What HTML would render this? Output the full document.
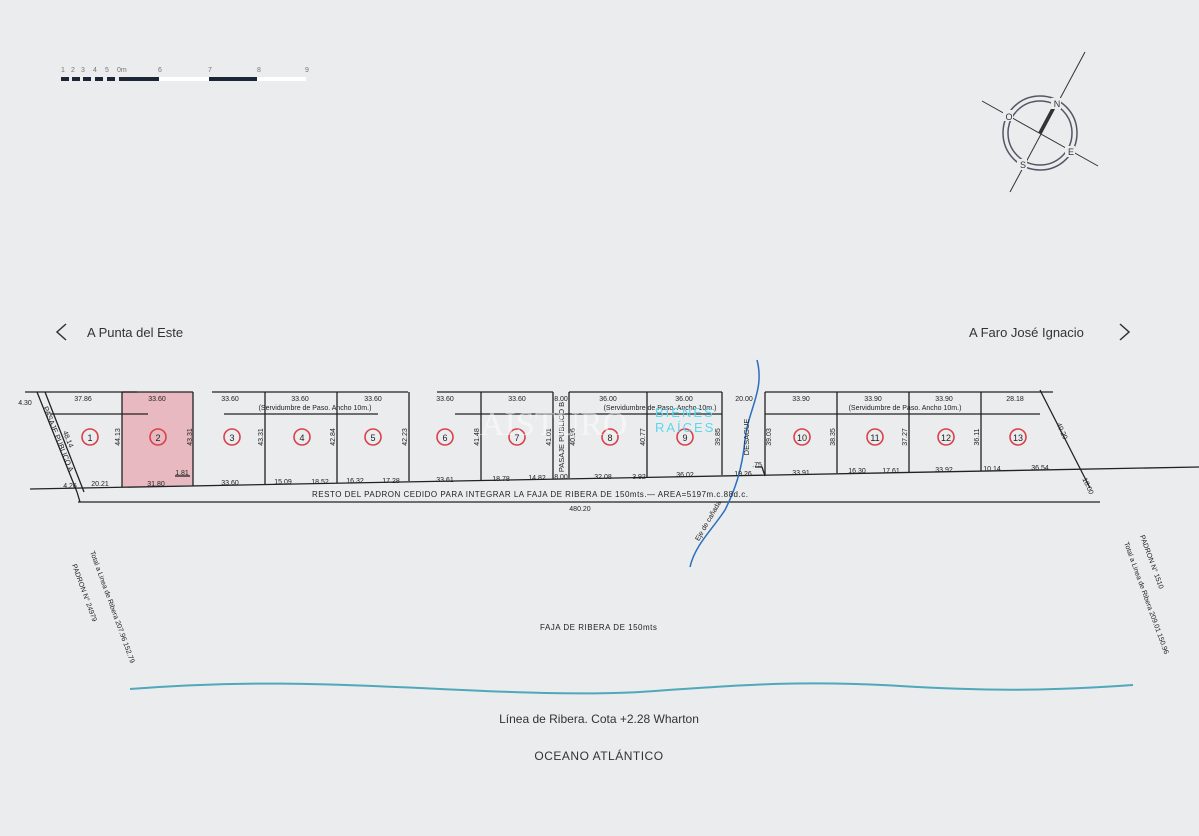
<!DOCTYPE html>
<html><head><meta charset="utf-8"><style>
html,body{margin:0;padding:0;background:#ebeced;}
svg{display:block;font-family:"Liberation Sans",sans-serif;}
</style></head><body>
<svg width="1199" height="836" viewBox="0 0 1199 836" xmlns="http://www.w3.org/2000/svg">
<rect width="1199" height="836" fill="#ebeced"/>
<g font-size="7" fill="#777">
<text x="61" y="72">1</text><text x="71" y="72">2</text><text x="81" y="72">3</text><text x="93" y="72">4</text><text x="105" y="72">5</text><text x="117" y="72">0m</text><text x="158" y="72">6</text><text x="208" y="72">7</text><text x="257" y="72">8</text><text x="305" y="72">9</text>
</g>
<g fill="#1c2636">
<rect x="61" y="77" width="8" height="4"/><rect x="72" y="77" width="8" height="4"/><rect x="83" y="77" width="8" height="4"/><rect x="95" y="77" width="8" height="4"/><rect x="107" y="77" width="8" height="4"/>
<rect x="119" y="77" width="40" height="4"/><rect x="209" y="77" width="48" height="4"/>
</g>
<rect x="159" y="77" width="50" height="4" fill="#fff"/><rect x="257" y="77" width="49" height="4" fill="#fff"/>
<g stroke="#333" fill="none">
<circle cx="1040" cy="133" r="37" stroke="#556" stroke-width="1.5"/>
<circle cx="1040" cy="133" r="32" stroke="#556" stroke-width="1.5"/>
<line x1="1085" y1="52" x2="1010" y2="192" stroke-width="1"/>
<line x1="982" y1="101" x2="1098" y2="166" stroke-width="1"/>
<line x1="1055" y1="105" x2="1040" y2="133" stroke-width="3.5"/>
</g>
<g font-size="9" fill="#333" text-anchor="middle">
<rect x="1051" y="98" width="10" height="11" fill="#ebeced"/><text x="1057" y="107">N</text>
<rect x="1003" y="110" width="10" height="11" fill="#ebeced"/><text x="1009" y="120">O</text>
<rect x="1065" y="146" width="10" height="11" fill="#ebeced"/><text x="1071" y="155">E</text>
<rect x="1017" y="159" width="10" height="11" fill="#ebeced"/><text x="1023" y="168">S</text>
</g>
<g font-size="13" fill="#333">
<text x="87" y="337">A Punta del Este</text>
<text x="969" y="337">A Faro José Ignacio</text>
</g>
<polyline points="66,324 57,332 66,340" fill="none" stroke="#333" stroke-width="1.5"/>
<polyline points="1120,324 1129,332 1120,340" fill="none" stroke="#333" stroke-width="1.5"/>
<polygon points="122,392 193,392 193,485 122,487" fill="#e8b9c0"/>
<g stroke="#222" stroke-width="1.3" fill="none">
<line x1="25" y1="392" x2="137" y2="392"/>
<line x1="122" y1="392" x2="193" y2="392"/>
<line x1="212" y1="392" x2="408" y2="392"/>
<line x1="437" y1="392" x2="553" y2="392"/>
<line x1="569" y1="392" x2="722" y2="392"/>
<line x1="765" y1="392" x2="1053" y2="392"/>
<line x1="50" y1="414" x2="148" y2="414"/>
<line x1="224" y1="414" x2="378" y2="414"/>
<line x1="455" y1="414" x2="722" y2="414"/>
<line x1="765" y1="414" x2="1040" y2="414"/>
<line x1="30" y1="489" x2="1199" y2="467"/>
<line x1="78" y1="502" x2="1100" y2="502"/>
<line x1="37" y1="392" x2="77" y2="492"/>
<line x1="45" y1="392" x2="84" y2="492"/>
<line x1="77" y1="492" x2="80" y2="502"/>
<line x1="1040" y1="390" x2="1090" y2="488"/>
<line x1="122" y1="392" x2="122" y2="487"/>
<line x1="193" y1="392" x2="193" y2="486"/>
<line x1="265" y1="392" x2="265" y2="484"/>
<line x1="337" y1="392" x2="337" y2="483"/>
<line x1="409" y1="392" x2="409" y2="481"/>
<line x1="481" y1="392" x2="481" y2="480"/>
<line x1="553" y1="392" x2="553" y2="479"/>
<line x1="569" y1="392" x2="569" y2="478"/>
<line x1="647" y1="392" x2="647" y2="477"/>
<line x1="722" y1="392" x2="722" y2="475"/>
<line x1="765" y1="392" x2="765" y2="475"/>
<line x1="837" y1="392" x2="837" y2="473"/>
<line x1="909" y1="392" x2="909" y2="472"/>
<line x1="981" y1="392" x2="981" y2="471"/>
<polyline points="755,467 762,467 765,476"/>
<line x1="175" y1="476" x2="190" y2="476"/>
</g>
<path d="M757,360 C765,390 748,410 745,440 C742,470 735,490 725,510 C712,530 695,545 690,567" fill="none" stroke="#2a6fc0" stroke-width="1.5"/>
<g fill="none" stroke="#d8414b" stroke-width="1.6">
<circle cx="90" cy="437" r="8"/><circle cx="158" cy="437" r="8"/><circle cx="232" cy="437" r="8"/><circle cx="302" cy="437" r="8"/><circle cx="373" cy="437" r="8"/><circle cx="445" cy="437" r="8"/><circle cx="517" cy="437" r="8"/><circle cx="610" cy="437" r="8"/><circle cx="685" cy="437" r="8"/><circle cx="802" cy="437" r="8"/><circle cx="875" cy="437" r="8"/><circle cx="946" cy="437" r="8"/><circle cx="1018" cy="437" r="8"/>
</g>
<g font-size="9" fill="#222" text-anchor="middle">
<text x="90" y="441">1</text><text x="158" y="441">2</text><text x="232" y="441">3</text><text x="302" y="441">4</text><text x="373" y="441">5</text><text x="445" y="441">6</text><text x="517" y="441">7</text><text x="610" y="441">8</text><text x="685" y="441">9</text><text x="802" y="441">10</text><text x="875" y="441">11</text><text x="946" y="441">12</text><text x="1018" y="441">13</text>
</g>
<g font-size="7" fill="#222" text-anchor="middle">
<text x="83" y="401">37.86</text><text x="157" y="401">33.60</text><text x="230" y="401">33.60</text><text x="300" y="401">33.60</text><text x="373" y="401">33.60</text><text x="445" y="401">33.60</text><text x="517" y="401">33.60</text><text x="561" y="401">8.00</text><text x="608" y="401">36.00</text><text x="684" y="401">36.00</text><text x="744" y="401">20.00</text><text x="801" y="401">33.90</text><text x="873" y="401">33.90</text><text x="944" y="401">33.90</text><text x="1015" y="401">28.18</text>
<text x="315" y="410">(Servidumbre de Paso. Ancho 10m.)</text>
<text x="660" y="410">(Servidumbre de Paso. Ancho 10m.)</text>
<text x="905" y="410">(Servidumbre de Paso. Ancho 10m.)</text>
<text x="25" y="405">4.30</text>
<text x="100" y="486">20.21</text><text x="156" y="486">31.80</text><text x="182" y="475">1.81</text><text x="230" y="485">33.60</text><text x="283" y="484">15.09</text><text x="320" y="484">18.52</text><text x="355" y="483">16.32</text><text x="391" y="483">17.28</text><text x="445" y="482">33.61</text><text x="501" y="481">18.78</text><text x="537" y="480">14.82</text><text x="561" y="479">8.00</text><text x="603" y="479">32.08</text><text x="639" y="479">3.92</text><text x="685" y="477">36.02</text><text x="743" y="476">19.26</text><text x="757" y="467">.75</text><text x="801" y="475">33.91</text><text x="857" y="473">16.30</text><text x="891" y="473">17.61</text><text x="944" y="472">33.92</text><text x="992" y="471">10.14</text><text x="1040" y="470">36.54</text><text x="70" y="488">4.26</text>
<text x="580" y="511">480.20</text>
</g>
<g font-size="7" fill="#222" text-anchor="middle">
<text transform="translate(120,437) rotate(-90)">44.13</text>
<text transform="translate(192,437) rotate(-90)">43.31</text>
<text transform="translate(263,437) rotate(-90)">43.31</text>
<text transform="translate(335,437) rotate(-90)">42.84</text>
<text transform="translate(407,437) rotate(-90)">42.23</text>
<text transform="translate(479,437) rotate(-90)">41.48</text>
<text transform="translate(551,437) rotate(-90)">41.01</text>
<text transform="translate(575,437) rotate(-90)">40.96</text>
<text transform="translate(645,437) rotate(-90)">40.77</text>
<text transform="translate(720,437) rotate(-90)">39.85</text>
<text transform="translate(771,437) rotate(-90)">39.03</text>
<text transform="translate(835,437) rotate(-90)">38.35</text>
<text transform="translate(907,437) rotate(-90)">37.27</text>
<text transform="translate(979,437) rotate(-90)">36.11</text>
<text transform="translate(1060,432) rotate(65)">40.20</text>
<text transform="translate(1086,487) rotate(65)">18.00</text>
<text transform="translate(66,440) rotate(68)">48.14</text>
<text transform="translate(710,522) rotate(-60)">Eje de cañada</text>
</g>
<g font-size="7.5" fill="#222" text-anchor="middle">
<text transform="translate(564,437) rotate(-90)">PASAJE PUBLICO B</text>
<text transform="translate(749,437) rotate(-90)">DESAGUE</text>
<text transform="translate(56,440) rotate(68)">PASAJE PUBLICO A</text>
</g>
<text x="312" y="497" font-size="8" fill="#222" letter-spacing="0.5">RESTO DEL PADRON CEDIDO PARA INTEGRAR LA FAJA DE RIBERA DE 150mts.— AREA=5197m.c.88d.c.</text>
<text x="480" y="435" font-size="34" font-family="Liberation Serif,serif" fill="#ffffff" opacity="0.5">AISTURO</text>
<text x="655" y="417" font-size="13" fill="#5fd6f0" letter-spacing="2">BIENES</text>
<text x="655" y="432" font-size="13" fill="#5fd6f0" letter-spacing="2">RAÍCES</text>
<g font-size="7" fill="#222">
<text transform="translate(72,565) rotate(70)">PADRON  N° 24979</text>
<text transform="translate(90,552) rotate(70)">Total  a  Linea  de  Ribera  207.96   152.79</text>
<text transform="translate(1140,536) rotate(70)">PADRON  N° 1510</text>
<text transform="translate(1124,543) rotate(70)">Total  a  Linea  de  Ribera  209.01   150.96</text>
</g>
<text x="540" y="630" font-size="8" fill="#222" letter-spacing="0.5">FAJA DE RIBERA DE 150mts</text>
<path d="M130,689 C250,680 330,684 420,688 C520,693 580,695 640,692 C740,685 800,680 900,686 C1000,692 1060,690 1133,685" fill="none" stroke="#4fa8bb" stroke-width="2"/>
<text x="599" y="723" font-size="12" fill="#333" text-anchor="middle">Línea de Ribera. Cota +2.28 Wharton</text>
<text x="599" y="760" font-size="12" fill="#333" text-anchor="middle" letter-spacing="0.5">OCEANO ATLÁNTICO</text>
</svg>
</body></html>
